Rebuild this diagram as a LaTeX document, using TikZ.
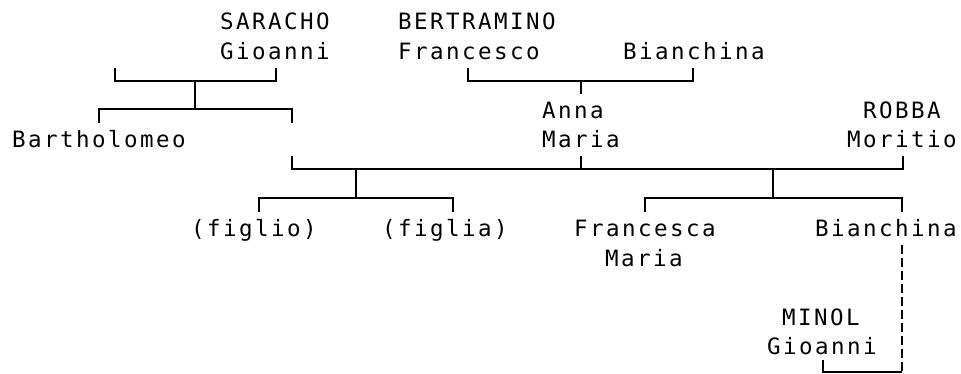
\documentclass[tikz,border=0pt]{standalone}
\usepackage{fontspec}
\setmonofont[LetterSpace=10.9]{DejaVu Sans Mono}
\usetikzlibrary{positioning}

\begin{document}
\begin{tikzpicture}[
  x=1pt, y=-1pt,
  every node/.style={font=\ttfamily\fontsize{22.5}{29.5}\selectfont,
                     inner sep=0pt, anchor=base west},
  link/.style={line width=1.8pt},
  affair/.style={link, dash pattern=on 9pt off 4pt}
]
  \useasboundingbox (0,0) rectangle (961,374);
  % top generation
  \node (saracho)    at (220,30)    {SARACHO};
  \node (gioanni)    at (220,59.5)  {Gioanni};
  \node (bertramino) at (398,30)    {BERTRAMINO};
  \node (francesco)  at (398,59.5)  {Francesco};
  \node (bianchinaA) at (623,59.5)  {Bianchina};
  % middle generation
  \node (bartholomeo) at (12,148)   {Bartholomeo};
  \node (anna)       at (542,118.5) {Anna};
  \node (maria)      at (542,148)   {Maria};
  \node (robba)      at (863,118.5) {ROBBA};
  \node (moritio)    at (847,148)   {Moritio};
  % children
  \node (figlio)     at (191,236.5) {(figlio)};
  \node (figlia)     at (382,236.5) {(figlia)};
  \node (francesca)  at (574,236.5) {Francesca};
  \node (mariaB)     at (605,266)   {Maria};
  \node (bianchinaB) at (815,236.5) {Bianchina};
  \node (minol)      at (782,325)   {MINOL};
  \node (gioanniB)   at (767,354.5) {Gioanni};

  % junction points
  \coordinate (sarL) at (115,68);  \coordinate (sarR) at (276,68);
  \coordinate (sarM) at (195,81);  \coordinate (sarD) at (195,109);
  \coordinate (bartL) at (99,123); \coordinate (bartR) at (292,123);
  \coordinate (berL) at (468,68);  \coordinate (berR) at (693,68);
  \coordinate (berM) at (581,81);  \coordinate (annaT) at (581,94);
  \coordinate (wedA) at (292,156); \coordinate (wedB) at (581,156);
  \coordinate (wedC) at (903,156);
  \coordinate (famA) at (356,169); \coordinate (famAD) at (356,198);
  \coordinate (famB) at (773,169); \coordinate (famBD) at (773,198);
  \coordinate (figlioT) at (259,212);    \coordinate (figliaT) at (453,212);
  \coordinate (francescaT) at (645,212); \coordinate (bianchinaT) at (902,212);
  \coordinate (bianchinaD) at (902,245); \coordinate (affairC) at (902,372);
  \coordinate (minolD) at (823,360);

  \draw[link] (sarL) |- (sarM) -| (sarR);
  \draw[link] (sarM) -- (sarD);
  \draw[link] (bartL) |- (sarD) -| (bartR);
  \draw[link] (berL) |- (berM) -| (berR);
  \draw[link] (berM) -- (annaT);
  \draw[link] (wedA) |- (famA) -| (wedC);
  \draw[link] (wedB) -- (wedB |- famA);
  \draw[link] (famA) -- (famAD);
  \draw[link] (figlioT) |- (famAD) -| (figliaT);
  \draw[link] (famB) -- (famBD);
  \draw[link] (francescaT) |- (famBD) -| (bianchinaT);
  \draw[affair] (bianchinaD) -- (affairC);
  \draw[link] (affairC) -| (minolD);
\end{tikzpicture}
\end{document}
